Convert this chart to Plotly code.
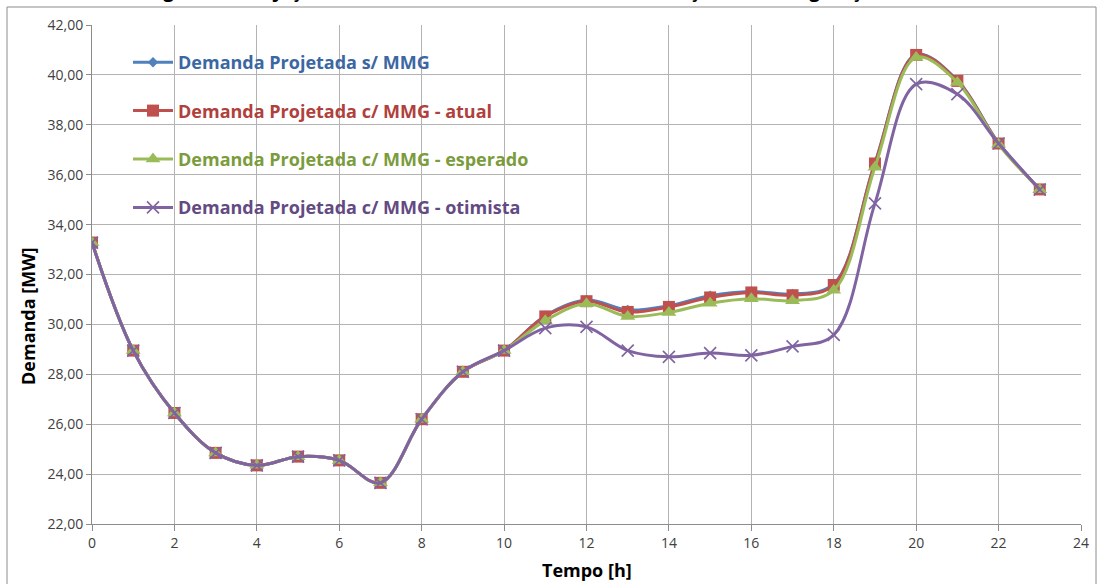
import plotly.graph_objects as go

hours = list(range(24))

s_mmg = [33.30, 28.95, 26.45, 24.85, 24.35, 24.70, 24.55, 23.65, 26.20, 28.10,
         28.95, 30.35, 30.98, 30.58, 30.75, 31.15, 31.32, 31.22, 31.62, 36.48,
         40.82, 39.78, 37.27, 35.42]
c_atual = [33.28, 28.95, 26.45, 24.85, 24.35, 24.70, 24.55, 23.65, 26.20, 28.10,
           28.95, 30.32, 30.93, 30.50, 30.70, 31.08, 31.28, 31.17, 31.58, 36.45,
           40.80, 39.76, 37.25, 35.41]
c_esperado = [33.28, 28.95, 26.45, 24.85, 24.35, 24.70, 24.55, 23.65, 26.20, 28.10,
              28.95, 30.15, 30.83, 30.32, 30.48, 30.85, 31.03, 30.95, 31.37, 36.30,
              40.70, 39.70, 37.22, 35.40]
c_otimista = [33.28, 28.95, 26.45, 24.85, 24.35, 24.70, 24.55, 23.65, 26.20, 28.10,
              28.95, 29.85, 29.90, 28.95, 28.70, 28.85, 28.76, 29.12, 29.58, 34.85,
              39.63, 39.23, 37.25, 35.40]

series_names = ["Demanda Projetada s/ MMG",
                "Demanda Projetada c/ MMG - atual",
                "Demanda Projetada c/ MMG - esperado",
                "Demanda Projetada c/ MMG - otimista"]

y_ticks = [22, 24, 26, 28, 30, 32, 34, 36, 38, 40, 42]
x_ticks = list(range(0, 25, 2))

title_text = "Figura 3 – Projeção da Demanda com os Cenários de Inserção de Microgeração"
x_title = "Tempo [h]"
y_title = "Demanda [MW]"

line_colors = ["#4f81bd", "#c0504d", "#9bbb59", "#8064a2"]
text_colors = ["#3b67a3", "#b0403c", "#7b9c3c", "#634a82"]
symbols = ["diamond", "square", "triangle-up", "x-thin"]
sizes = [8, 12, 13, 12]

fig = go.Figure()
data = [s_mmg, c_atual, c_esperado, c_otimista]
for i, (name, ys) in enumerate(zip(series_names, data)):
    marker = dict(symbol=symbols[i], size=sizes[i], color=line_colors[i])
    if symbols[i] == "x-thin":
        marker["line"] = dict(color=line_colors[i], width=1.6)
    else:
        marker["line"] = dict(width=0)
    fig.add_trace(go.Scatter(
        x=hours, y=ys, mode="lines+markers",
        name=f"<span style='color:{text_colors[i]}'>{name}</span>",
        legendgroup=f"g{i}",
        line=dict(color=line_colors[i], width=3, shape="spline", smoothing=1),
        marker=marker,
    ))

L, R, T, B = 92, 1081, 25, 524
W, H = R - L, B - T


def px(x):
    return (x - L) / W


def py(y):
    return (B - y) / H


axis_title_font = dict(family="Open Sans", size=18, color="black", weight="bold")

fig.update_layout(
    width=1099, height=584,
    margin=dict(l=L, r=1099 - R, t=T, b=584 - B),
    paper_bgcolor="white", plot_bgcolor="white",
    separators=",.",
    showlegend=True,
    legend=dict(
        x=px(128), y=py(44), xanchor="left", yanchor="top",
        traceorder="grouped", tracegroupgap=22,
        font=dict(family="Open Sans", size=18, weight="bold"),
        bgcolor="rgba(0,0,0,0)", itemwidth=40,
    ),
    xaxis=dict(
        range=[0, 24], tickvals=x_ticks, showgrid=True,
        gridcolor="#b3b3b3", gridwidth=1, automargin=False,
        showline=True, linecolor="#8c8c8c", linewidth=1,
        ticks="outside", ticklen=6, tickcolor="#8c8c8c",
        tickfont=dict(family="Open Sans", size=14, color="#404040"),
        zeroline=False,
    ),
    yaxis=dict(
        range=[22, 42], tickvals=y_ticks, tickformat=".2f", showgrid=True,
        gridcolor="#b3b3b3", gridwidth=1, automargin=False,
        showline=True, linecolor="#8c8c8c", linewidth=1,
        ticks="outside", ticklen=5, tickcolor="#8c8c8c",
        tickfont=dict(family="Open Sans", size=14, color="#404040"),
        zeroline=False,
    ),
    shapes=[dict(type="rect", xref="paper", yref="paper",
                 x0=px(7), x1=px(1096), y0=py(620), y1=py(7),
                 line=dict(color="#8c8c8c", width=1), fillcolor="rgba(0,0,0,0)", layer="below")],
    annotations=[
        dict(text=title_text, xref="paper", yref="paper",
             x=px(515), y=py(5), xanchor="center", yanchor="bottom",
             showarrow=False,
             font=dict(family="Open Sans", size=19, color="black", weight="bold")),
        dict(text=x_title, xref="paper", yref="paper",
             x=px(587), y=py(570), xanchor="center", yanchor="middle",
             showarrow=False, font=axis_title_font),
        dict(text=y_title, xref="paper", yref="paper",
             x=px(28), y=py(316), xanchor="center", yanchor="middle",
             textangle=-90, showarrow=False, font=axis_title_font),
    ],
)

fig.write_html("out.html")
